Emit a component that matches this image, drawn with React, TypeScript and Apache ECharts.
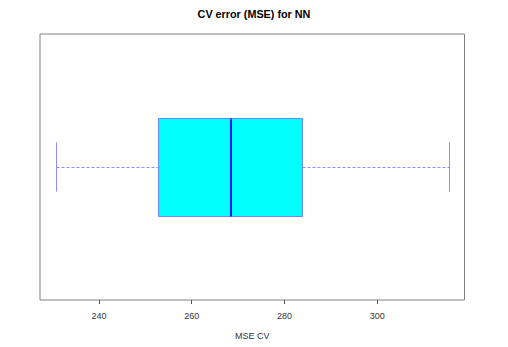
import React, { useEffect, useRef } from "react";
import * as echarts from "echarts";

const categories = ["NN"];
const minValues = [230.7];
const q1Values = [252.7];
const medianValues = [268.4];
const q3Values = [283.8];
const maxValues = [315.5];
const tickValues = [240, 260, 280, 300];

const crisp = (v: number) => Math.round(v) + 0.5;

export default function App() {
  const ref = useRef<HTMLDivElement>(null);
  useEffect(() => {
    if (!ref.current) return;
    const chart = echarts.init(ref.current, null, { renderer: "svg" });
    const data = categories.map((_, i) => [
      1,
      minValues[i],
      q1Values[i],
      medianValues[i],
      q3Values[i],
      maxValues[i],
    ]);
    chart.setOption({
      animation: false,
      backgroundColor: "#ffffff",
      title: {
        text: "CV error (MSE) for NN",
        left: "center",
        top: 8,
        padding: 0,
        textStyle: {
          fontFamily: "Liberation Sans, Arial, sans-serif",
          fontSize: 10.8,
          fontWeight: "bold",
          color: "#000000",
        },
      },
      grid: {
        left: 40,
        right: 43.5,
        top: 34,
        bottom: 47,
        show: true,
        borderColor: "#808080",
        borderWidth: 1,
        backgroundColor: "transparent",
      },
      xAxis: {
        type: "value",
        min: 227.3,
        max: 318.8,
        name: "MSE CV",
        nameLocation: "middle",
        nameGap: 31,
        nameTextStyle: {
          fontFamily: "Liberation Sans, Arial, sans-serif",
          fontSize: 9,
          color: "#333333",
        },
        axisLine: { show: false },
        splitLine: { show: false },
        axisTick: {
          show: true,
          length: 4,
          customValues: tickValues,
          lineStyle: { color: "#555555" },
        },
        axisLabel: {
          customValues: tickValues,
          margin: 11,
          fontFamily: "Liberation Sans, Arial, sans-serif",
          fontSize: 9,
          color: "#333333",
        },
      },
      yAxis: {
        type: "value",
        min: 0.46,
        max: 1.54,
        show: false,
      },
      series: [
        {
          type: "custom",
          data,
          encode: { x: [1, 2, 3, 4, 5], y: 0 },
          renderItem: (params: any, api: any) => {
            const y = api.value(0);
            const vMin = api.value(1);
            const vQ1 = api.value(2);
            const vMed = api.value(3);
            const vQ3 = api.value(4);
            const vMax = api.value(5);
            const pMin = api.coord([vMin, y]);
            const pQ1 = api.coord([vQ1, y]);
            const pMed = api.coord([vMed, y]);
            const pQ3 = api.coord([vQ3, y]);
            const pMax = api.coord([vMax, y]);
            const boxTop = crisp(api.coord([vQ1, y + 0.2])[1]);
            const boxBot = crisp(api.coord([vQ1, y - 0.2])[1]);
            const capTop = api.coord([vQ1, y + 0.1])[1];
            const capBot = api.coord([vQ1, y - 0.1])[1];
            const cy = crisp(pMin[1]);
            const xMin = crisp(pMin[0]);
            const xMax = crisp(pMax[0]);
            const xQ1 = crisp(pQ1[0]);
            const xQ3 = crisp(pQ3[0]);
            const whiskerStyle = { stroke: "#8c8cff", lineWidth: 1, lineDash: [3, 2] };
            const capStyle = { stroke: "#8c8cff", lineWidth: 1 };
            return {
              type: "group",
              children: [
                {
                  type: "line",
                  shape: { x1: xMin, y1: cy, x2: xQ1, y2: cy },
                  style: whiskerStyle,
                },
                {
                  type: "line",
                  shape: { x1: xQ3, y1: cy, x2: xMax, y2: cy },
                  style: whiskerStyle,
                },
                {
                  type: "line",
                  shape: { x1: xMin, y1: capTop, x2: xMin, y2: capBot },
                  style: capStyle,
                },
                {
                  type: "line",
                  shape: { x1: xMax, y1: capTop, x2: xMax, y2: capBot },
                  style: capStyle,
                },
                {
                  type: "rect",
                  shape: {
                    x: xQ1,
                    y: boxTop,
                    width: xQ3 - xQ1,
                    height: boxBot - boxTop,
                  },
                  style: { fill: "#00ffff", stroke: "#6a8cff", lineWidth: 1 },
                },
                {
                  type: "line",
                  shape: { x1: Math.round(pMed[0]), y1: boxTop, x2: Math.round(pMed[0]), y2: boxBot },
                  style: { stroke: "#1a1aff", lineWidth: 2 },
                },
              ],
            };
          },
        },
      ],
    });
    return () => chart.dispose();
  }, []);
  return <div ref={ref} style={{ width: 508, height: 347, position: "absolute", left: 0, top: 0 }} />;
}
